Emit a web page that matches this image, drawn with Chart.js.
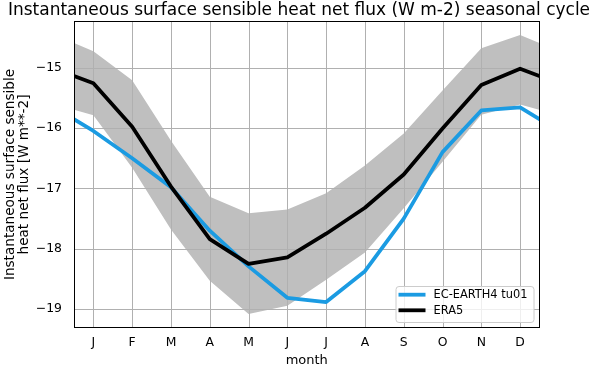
<!DOCTYPE html>
<html>
<head>
<meta charset="utf-8">
<script src="https://cdn.jsdelivr.net/npm/chart.js@4"></script>
<style>
  html, body { margin: 0; padding: 0; background: #fff; }
  #wrap { width: 592px; height: 369px; }
</style>
</head>
<body>
<div id="wrap"><canvas id="c" width="592" height="369"></canvas></div>
<script>
// ---- data ----
const months = ['J', 'F', 'M', 'A', 'M', 'J', 'J', 'A', 'S', 'O', 'N', 'D'];
const ecEarth = [-16.05, -16.50, -16.98, -17.70, -18.29, -18.81, -18.88, -18.37, -17.50, -16.40, -15.71, -15.66];
const era5 = [-15.26, -15.98, -16.97, -17.84, -18.25, -18.14, -17.75, -17.32, -16.77, -16.01, -15.29, -15.02];
const era5Upper = [-14.73, -15.21, -16.21, -17.14, -17.41, -17.35, -17.08, -16.62, -16.09, -15.38, -14.68, -14.46];
const era5Lower = [-15.79, -16.66, -17.68, -18.53, -19.08, -18.94, -18.51, -18.06, -17.33, -16.56, -15.78, -15.61];
const yTicks = [-19, -18, -17, -16, -15];
const seriesLabels = ['EC-EARTH4 tu01', 'ERA5'];
const titleText = 'Instantaneous surface sensible heat net flux (W m-2) seasonal cycle';
const yTitle = ['Instantaneous surface sensible', 'heat net flux [W m**-2]'];
const xTitle = 'month';

// cyclic wrap: December before January, January after December
function cyc(arr) {
  const pts = [{ x: 0, y: arr[arr.length - 1] }];
  arr.forEach((v, i) => pts.push({ x: i + 1, y: v }));
  pts.push({ x: arr.length + 1, y: arr[0] });
  return pts;
}

const FONT = 'DejaVu Sans';
const TICK_FS = 12.4;
const LABEL_FS = 13.6;
const LEG_FS = 11.4;
const BLUE = 'rgb(27,155,226)';
const GREY = '#bfbfbf';

const gridPlugin = {
  id: 'mplGrid',
  beforeDatasetDraw(chart, args) {
    if (args.index !== 0) return;
    const ctx = chart.ctx, a = chart.chartArea;
    const xs = chart.scales.x, ys = chart.scales.y;
    ctx.save();
    ctx.strokeStyle = '#b0b0b0';
    ctx.lineWidth = 1;
    ctx.beginPath();
    xs.ticks.forEach(t => {
      const p = Math.round(xs.getPixelForValue(t.value)) + 0.5;
      ctx.moveTo(p, a.top); ctx.lineTo(p, a.bottom);
    });
    ys.ticks.forEach(t => {
      const p = Math.round(ys.getPixelForValue(t.value)) + 0.5;
      ctx.moveTo(a.left, p); ctx.lineTo(a.right, p);
    });
    ctx.stroke();
    ctx.restore();
  },
  afterDatasetsDraw(chart) {
    const ctx = chart.ctx, a = chart.chartArea;
    ctx.save();
    // frame
    ctx.strokeStyle = '#000';
    ctx.lineWidth = 1;
    ctx.strokeRect(Math.round(a.left) + 0.5, Math.round(a.top) + 0.5,
                   Math.round(a.right - a.left) - 1, Math.round(a.bottom - a.top) - 1);
    // legend (lower right)
    const bx = a.right - 144, by = a.bottom - 42, bw = 138, bh = 36;
    ctx.beginPath();
    ctx.roundRect(bx + 0.5, by + 0.5, bw, bh, 3);
    ctx.fillStyle = 'rgba(255,255,255,0.8)';
    ctx.fill();
    ctx.strokeStyle = '#cccccc';
    ctx.lineWidth = 1;
    ctx.stroke();
    ctx.font = LEG_FS + 'px "' + FONT + '"';
    ctx.textBaseline = 'middle';
    ctx.textAlign = 'left';
    [0, 1].forEach((di, k) => {
      const ds = chart.data.datasets[di];
      const cy = by + 8.7 + k * 15.6;
      ctx.beginPath();
      ctx.strokeStyle = ds.borderColor;
      ctx.lineWidth = ds.borderWidth;
      ctx.moveTo(bx + 3, cy); ctx.lineTo(bx + 30, cy);
      ctx.stroke();
      ctx.fillStyle = '#000';
      ctx.fillText(ds.label, bx + 38, cy + 0.5);
    });
    ctx.restore();
  }
};

new Chart(document.getElementById('c'), {
  type: 'line',
  data: {
    datasets: [
      { label: seriesLabels[0], data: cyc(ecEarth), borderColor: BLUE, borderWidth: 3.8,
        pointRadius: 0, fill: false, order: 1, clip: 0, borderJoinStyle: 'round', tension: 0 },
      { label: seriesLabels[1], data: cyc(era5), borderColor: '#000', borderWidth: 3.8,
        pointRadius: 0, fill: false, order: 0, clip: 0, borderJoinStyle: 'round', tension: 0 },
      { label: 'upper', data: cyc(era5Upper), borderWidth: 0, borderColor: 'rgba(0,0,0,0)',
        backgroundColor: GREY, pointRadius: 0, fill: '+1', order: 2, clip: 0, tension: 0 },
      { label: 'lower', data: cyc(era5Lower), borderWidth: 0, borderColor: 'rgba(0,0,0,0)',
        pointRadius: 0, fill: false, order: 3, clip: 0, tension: 0 }
    ]
  },
  options: {
    responsive: false,
    animation: false,
    devicePixelRatio: 1,
    layout: { padding: { left: 6, right: 0, top: 0, bottom: 0 } },
    plugins: {
      legend: { display: false },
      tooltip: { enabled: false },
      title: { display: true, text: titleText, color: '#000',
               font: { family: FONT, size: 17, weight: 'normal', lineHeight: 1.2 },
               padding: { top: 0, bottom: 0.6 } }
    },
    scales: {
      x: {
        type: 'linear', min: 0.5, max: 12.5,
        grid: { display: false, drawTicks: false }, border: { display: false },
        afterBuildTicks: ax => { ax.ticks = months.map((m, i) => ({ value: i + 1 })); },
        ticks: { callback: (v, i) => months[i], padding: 7, color: '#000',
                 font: { family: FONT, size: TICK_FS, lineHeight: 1.2 }, autoSkip: false, maxRotation: 0 },
        title: { display: true, text: xTitle, color: '#000',
                 font: { family: FONT, size: 13, lineHeight: 1.2 }, padding: { top: 0, bottom: 0.2 } },
        afterFit: s => { s.height = 41; }
      },
      y: {
        type: 'linear', min: -19.31, max: -14.23,
        grid: { display: false, drawTicks: false }, border: { display: false },
        afterBuildTicks: ax => { ax.ticks = yTicks.map(v => ({ value: v })); },
        ticks: { callback: v => String(v).replace('-', '\u2212'), padding: 12, color: '#000',
                 font: { family: FONT, size: TICK_FS, lineHeight: 1.2 } },
        title: { display: true, text: yTitle, color: '#000',
                 font: { family: FONT, size: LABEL_FS, lineHeight: 1.04 }, padding: { top: -3, bottom: 0 } },
        afterFit: s => { s.width = 68; }
      },
      yRight: {
        type: 'linear', position: 'right', min: 0, max: 1,
        grid: { display: false, drawTicks: false }, border: { display: false },
        ticks: { display: false },
        afterFit: s => { s.width = 52.5; }
      }
    }
  },
  plugins: [gridPlugin]
});
</script>
</body>
</html>
